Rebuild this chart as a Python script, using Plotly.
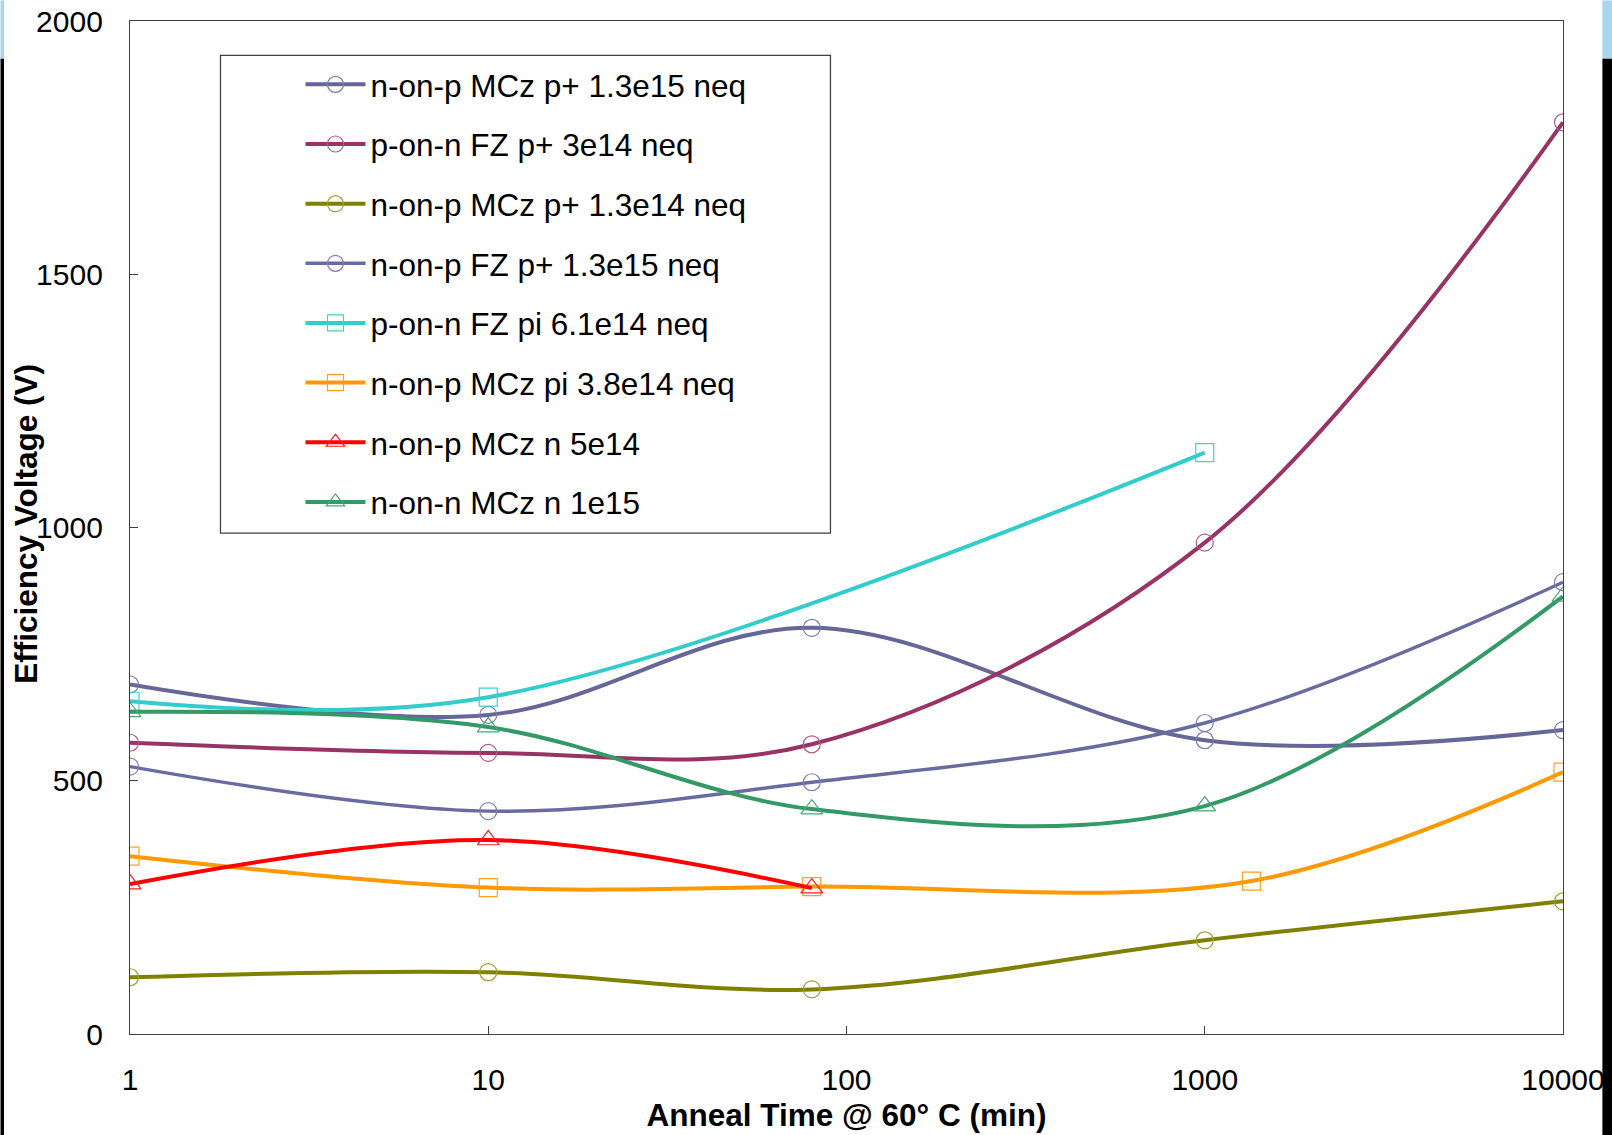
import plotly.graph_objects as go

# ---- data ----
names = [
    "n-on-p MCz p+ 1.3e15 neq",
    "p-on-n FZ p+ 3e14 neq",
    "n-on-p MCz p+ 1.3e14 neq",
    "n-on-p FZ p+ 1.3e15 neq",
    "p-on-n FZ pi 6.1e14 neq",
    "n-on-p MCz pi 3.8e14 neq",
    "n-on-p MCz n 5e14",
    "n-on-n MCz n 1e15",
]
x_s1 = [1, 10, 80, 1000, 10000]
y_s1 = [690, 630, 802, 580, 600]
x_s2 = [1, 10, 80, 1000, 10000]
y_s2 = [575, 555, 572, 970, 1800]
x_s3 = [1, 10, 80, 1000, 10000]
y_s3 = [112, 122, 88, 185, 262]
x_s4 = [1, 10, 80, 1000, 10000]
y_s4 = [528, 440, 497, 614, 892]
x_s5 = [1, 10, 1000]
y_s5 = [657, 665, 1148]
x_s6 = [1, 10, 80, 1350, 10000]
y_s6 = [351, 289, 291, 302, 517]
x_s7 = [1, 10, 80]
y_s7 = [296, 383, 288]
x_s8 = [1, 10, 80, 1000, 10000]
y_s8 = [636, 606, 444, 450, 864]

x_tick_vals = [1, 10, 100, 1000, 10000]
x_tick_text = ["1", "10", "100", "1000", "10000"]
y_tick_vals = [0, 500, 1000, 1500, 2000]

xs = [x_s1, x_s2, x_s3, x_s4, x_s5, x_s6, x_s7, x_s8]
ys = [y_s1, y_s2, y_s3, y_s4, y_s5, y_s6, y_s7, y_s8]
line_colors = ["#666699", "#993366", "#808000", "#6a6aa3", "#33cccc", "#ff9900", "#ff0000", "#339966"]
marker_colors = ["#7c7cb0", "#b05a88", "#a0a030", "#8080b4", "#40d0d0", "#ffa020", "#ff2020", "#4aa878"]
line_widths = [4, 4, 4, 3.4, 4, 4, 4, 4]
symbols = ["circle-open"] * 4 + ["square-open"] * 2 + ["triangle-up-open"] * 2
marker_sizes = [17, 17, 17, 17, 18, 18, 19, 19]

FONT = "Arial, Liberation Sans, sans-serif"

fig = go.Figure()
for i in range(8):
    fig.add_trace(go.Scatter(
        x=xs[i], y=ys[i], name=names[i], mode="lines+markers",
        legendgroup="g%d" % i,
        line=dict(color=line_colors[i], width=line_widths[i], shape="spline", smoothing=1.0),
        marker=dict(symbol=symbols[i], size=marker_sizes[i], color=marker_colors[i],
                    line=dict(width=1.2, color=marker_colors[i])),
    ))

L, R, T, B = 129.5, 49.4, 20.6, 101
W, H = 1612, 1135
pw, ph = W - L - R, H - T - B

def px2paper_x(px):
    return (px - L) / pw

def px2paper_y(py):
    return (H - B - py) / ph

shapes = [
    # legend frame
    dict(type="rect", xref="paper", yref="paper",
         x0=px2paper_x(220), x1=px2paper_x(830), y0=px2paper_y(533), y1=px2paper_y(55),
         line=dict(color="#404040", width=1.3), fillcolor="rgba(0,0,0,0)", layer="below"),
    # screenshot edge artifacts
    dict(type="rect", xref="paper", yref="paper", x0=px2paper_x(0), x1=px2paper_x(3.5),
         y0=px2paper_y(1135), y1=px2paper_y(58), fillcolor="#000000", line=dict(width=0), layer="above"),
    dict(type="rect", xref="paper", yref="paper", x0=px2paper_x(0), x1=px2paper_x(3.5),
         y0=px2paper_y(58), y1=px2paper_y(0), fillcolor="#a8d6ef", line=dict(width=0), layer="above"),
    dict(type="rect", xref="paper", yref="paper", x0=px2paper_x(1602), x1=px2paper_x(1612),
         y0=px2paper_y(1135), y1=px2paper_y(58), fillcolor="#000000", line=dict(width=0), layer="above"),
    dict(type="rect", xref="paper", yref="paper", x0=px2paper_x(1602), x1=px2paper_x(1612),
         y0=px2paper_y(58), y1=px2paper_y(0), fillcolor="#a8d6ef", line=dict(width=0), layer="above"),
]

annotations = [
    dict(text="<b>Efficiency Voltage (V)</b>", textangle=-90, xref="paper", yref="paper",
         x=px2paper_x(26), y=px2paper_y(524), xanchor="center", yanchor="middle",
         showarrow=False, font=dict(family=FONT, size=31.5, color="black")),
]

fig.update_layout(
    width=W, height=H,
    margin=dict(l=L, r=R, t=T, b=B, pad=0, autoexpand=False),
    paper_bgcolor="white", plot_bgcolor="white",
    font=dict(family=FONT, color="black", size=30),
    showlegend=True,
    legend=dict(
        x=px2paper_x(300), y=px2paper_y(57), xanchor="left", yanchor="top",
        bgcolor="rgba(0,0,0,0)", borderwidth=0,
        font=dict(family=FONT, size=31.5, color="black"),
        itemwidth=60, tracegroupgap=15.7, itemsizing="trace",
    ),
    xaxis=dict(
        type="log", range=[0, 4], tickmode="array", tickvals=x_tick_vals, ticktext=x_tick_text,
        ticks="inside", ticklen=8, tickcolor="#404040", showgrid=False, zeroline=False,
        showline=True, linecolor="#404040", linewidth=1.3, mirror=True, automargin=False,
        tickfont=dict(family=FONT, size=30), ticklabelstandoff=19,
        title=dict(text="<b>Anneal Time @ 60° C (min)</b>", font=dict(family=FONT, size=31.5), standoff=8),
    ),
    yaxis=dict(
        range=[0, 2000], tickmode="array", tickvals=y_tick_vals,
        ticks="inside", ticklen=8, tickcolor="#404040", showgrid=False, zeroline=False,
        showline=True, linecolor="#404040", linewidth=1.3, mirror=True, automargin=False,
        tickfont=dict(family=FONT, size=30), ticklabelstandoff=20,
    ),
    shapes=shapes,
    annotations=annotations,
)

fig.write_html("out.html")
